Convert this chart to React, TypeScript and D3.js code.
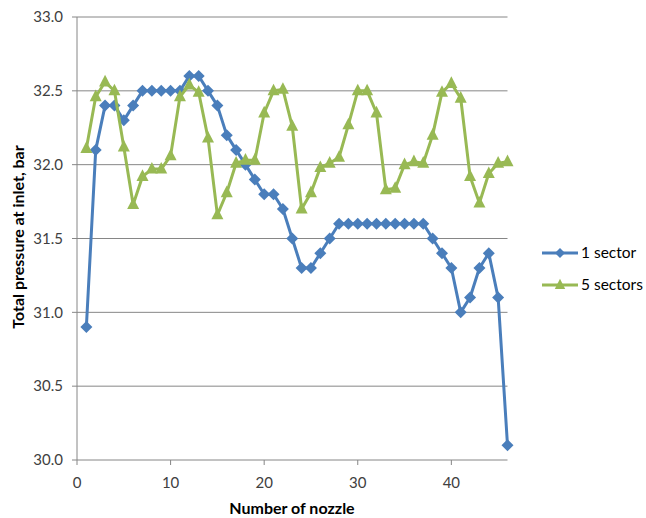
import React from "react";
import * as d3 from "d3";

const nozzles = d3.range(1, 47);
const oneSector = [30.9, 32.1, 32.4, 32.4, 32.3, 32.4, 32.5, 32.5, 32.5, 32.5, 32.5, 32.6, 32.6, 32.5, 32.4, 32.2, 32.1, 32.0, 31.9, 31.8, 31.8, 31.7, 31.5, 31.3, 31.3, 31.4, 31.5, 31.6, 31.6, 31.6, 31.6, 31.6, 31.6, 31.6, 31.6, 31.6, 31.6, 31.5, 31.4, 31.3, 31.0, 31.1, 31.3, 31.4, 31.1, 30.1];
const fiveSectors = [32.11, 32.46, 32.56, 32.5, 32.12, 31.73, 31.92, 31.97, 31.97, 32.06, 32.46, 32.54, 32.49, 32.18, 31.66, 31.81, 32.01, 32.03, 32.03, 32.35, 32.5, 32.51, 32.26, 31.7, 31.81, 31.98, 32.01, 32.05, 32.27, 32.5, 32.5, 32.35, 31.83, 31.84, 32.0, 32.02, 32.01, 32.2, 32.49, 32.55, 32.45, 31.92, 31.74, 31.94, 32.01, 32.02];
const yTicks = [30.0, 30.5, 31.0, 31.5, 32.0, 32.5, 33.0];
const xTicks = [0, 10, 20, 30, 40];
const seriesNames = ["1 sector", "5 sectors"];

const BLUE = "#4A7EBB";
const GREEN = "#98B954";
const FONT = "Lato, 'Open Sans', sans-serif";

export default function App() {
  const W = 646, H = 518;
  const x = d3.scaleLinear().domain([0, 46]).range([77, 507.5]);
  const y = d3.scaleLinear().domain([30, 33]).range([460, 17]);
  const line = d3.line<number>().x((_, i) => x(nozzles[i])).y((d) => y(d));
  const diamond = (cx: number, cy: number, r: number) =>
    `M${cx},${cy - r}L${cx + r},${cy}L${cx},${cy + r}L${cx - r},${cy}Z`;
  const tri = (cx: number, cy: number, s: number) =>
    `M${cx},${cy - s * 0.95}L${cx + s * 0.8},${cy + s * 0.6}L${cx - s * 0.8},${cy + s * 0.6}Z`;

  return (
    <svg width={W} height={H} style={{ position: "absolute", left: 0, top: 0 }} fontFamily={FONT}>
      <rect width={W} height={H} fill="#fff" />
      {yTicks.map((t) => (
        <g key={t}>
          <line x1={72} x2={507.5} y1={y(t)} y2={y(t)} stroke="#868686" strokeWidth={1} />
          <text x={63} y={y(t)} dy="0.35em" textAnchor="end" fontSize={15} fill="#404040">{t.toFixed(1)}</text>
        </g>
      ))}
      <line x1={77} x2={77} y1={17} y2={460} stroke="#868686" />
      {xTicks.map((t) => (
        <g key={t}>
          <line x1={x(t)} x2={x(t)} y1={460} y2={465} stroke="#868686" />
          <text x={x(t)} y={483} dy="0.35em" textAnchor="middle" fontSize={15} fill="#404040">{t}</text>
        </g>
      ))}
      <path d={line(oneSector) || ""} fill="none" stroke={BLUE} strokeWidth={3} strokeLinejoin="round" />
      {oneSector.map((v, i) => (
        <path key={"b" + i} d={diamond(x(nozzles[i]), y(v), 6)} fill={BLUE} />
      ))}
      <path d={line(fiveSectors) || ""} fill="none" stroke={GREEN} strokeWidth={3} strokeLinejoin="round" />
      {fiveSectors.map((v, i) => (
        <path key={"g" + i} d={tri(x(nozzles[i]), y(v), 7.5)} fill={GREEN} />
      ))}
      <text transform={`translate(24,237) rotate(-90)`} textAnchor="middle" fontSize={16} fontWeight="bold" fill="#000">Total pressure at inlet, bar</text>
      <text x={292} y={508} dy="0.35em" textAnchor="middle" fontSize={16} fontWeight="bold" fill="#000">Number of nozzle</text>
      {[BLUE, GREEN].map((c, i) => {
        const ly = i === 0 ? 253 : 285;
        return (
          <g key={c}>
            <line x1={542} x2={578} y1={ly} y2={ly} stroke={c} strokeWidth={3} />
            {i === 0 ? <path d={diamond(560, ly, 5)} fill={c} /> : <path d={tri(560, ly, 6.5)} fill={c} />}
            <text x={581} y={ly} dy="0.35em" fontSize={15.5} fill="#000">{seriesNames[i]}</text>
          </g>
        );
      })}
    </svg>
  );
}
